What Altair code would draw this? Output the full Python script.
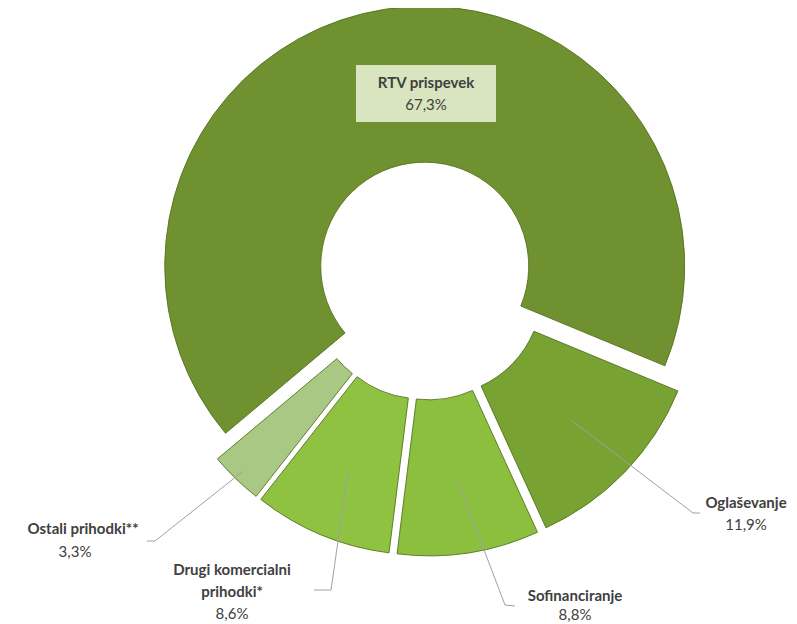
import math
import altair as alt
import pandas as pd

# ---------------- data ----------------
categories = ["RTV prispevek", "Oglaševanje", "Sofinanciranje",
              "Drugi komercialni prihodki*", "Ostali prihodki**"]
shares = [67.3, 11.9, 8.8, 8.6, 3.3]
name_labels = ["RTV prispevek", "Oglaševanje", "Sofinanciranje",
               "Drugi komercialni\nprihodki*", "Ostali prihodki**"]
pct_labels = ["67,3%", "11,9%", "8,8%", "8,6%", "3,3%"]

# ---------------- style / layout ----------------
colors = ["#6f9130", "#78a232", "#8cbf3e", "#8fc240", "#a9c884"]
W, H = 781, 616
CX, CY = 419, 273            # true centre of the doughnut (plot px)
R_OUT, R_IN = 260, 104
EXPLODE = 15
START = math.radians(230)    # angle of first slice
FONT = "Lato"
TXT = "#404040"
FS = 15
LINE_H = 22

# label layout: x, y of first name line, y of percent line
label_layout = {
    "RTV prispevek": (418, 75, 97),
    "Oglaševanje": (738, 495, 517),
    "Sofinanciranje": (567, 588, 607),
    "Drugi komercialni prihodki*": (224, 562, 606),
    "Ostali prihodki**": (67, 521, 544),
}
# leader lines: anchor radius, elbow point, end point
leader_layout = {
    "Oglaševanje": (185, 685, 505, 692, 505),
    "Sofinanciranje": (187, 497, 597, 507, 598),
    "Drugi komercialni prihodki*": (190, 323, 582, 306, 582),
    "Ostali prihodki**": (250, 147, 533, 139, 533),
}

rows = []
for i, c in enumerate(categories):
    lead = leader_layout.get(c)
    rows.append({
        "category": c, "share": shares[i], "order": i,
        "anchor_r": lead[0] if lead else None,
        "ex": lead[1] if lead else None, "ey": lead[2] if lead else None,
        "tx": lead[3] if lead else None, "ty": lead[4] if lead else None,
    })
df = pd.DataFrame(rows)

base = (
    alt.Chart(df)
    .transform_joinaggregate(total="sum(share)")
    .transform_window(cum="sum(share)", sort=[alt.SortField("order")], frame=[None, 0])
    .transform_calculate(start=f"{START} + 2*PI*(datum.cum - datum.share)/datum.total")
    .transform_calculate(end=f"{START} + 2*PI*datum.cum/datum.total")
    .transform_calculate(mid="(datum.start + datum.end)/2")
    .transform_calculate(cx=f"{CX} + {EXPLODE}*sin(datum.mid)")
    .transform_calculate(cy=f"{CY} - {EXPLODE}*cos(datum.mid)")
)

arcs = base.mark_arc(outerRadius=R_OUT, innerRadius=R_IN,
                     stroke="#55731f", strokeWidth=0.9).encode(
    theta=alt.Theta("start:Q", scale=None, stack=None),
    theta2="end:Q",
    x=alt.X("cx:Q", scale=None, axis=None),
    y=alt.Y("cy:Q", scale=None, axis=None),
    color=alt.Color("category:N", scale=alt.Scale(domain=categories, range=colors),
                    legend=None),
    tooltip=["category:N", "share:Q"],
)

leader_base = (
    base.transform_filter("isValid(datum.anchor_r)")
    .transform_calculate(ax="datum.cx + datum.anchor_r*sin(datum.mid)")
    .transform_calculate(ay="datum.cy - datum.anchor_r*cos(datum.mid)")
)
leader1 = leader_base.mark_rule(color="#a0a0a0", strokeWidth=1).encode(
    x=alt.X("ax:Q", scale=None, axis=None), y=alt.Y("ay:Q", scale=None, axis=None),
    x2="ex:Q", y2="ey:Q")
leader2 = leader_base.mark_rule(color="#a0a0a0", strokeWidth=1).encode(
    x=alt.X("ex:Q", scale=None, axis=None), y=alt.Y("ey:Q", scale=None, axis=None),
    x2="tx:Q", y2="ty:Q")

# label text rows
lab_rows = []
for i, c in enumerate(categories):
    x, y0, yp = label_layout[c]
    for k, line in enumerate(name_labels[i].split("\n")):
        lab_rows.append({"text": line, "x": x + (8 if c.startswith("Ostali") else 0),
                         "y": y0 + k * LINE_H, "w": "bold"})
    lab_rows.append({"text": pct_labels[i], "x": x, "y": yp, "w": "normal"})
labs = pd.DataFrame(lab_rows)

bx, by0, byp = label_layout["RTV prispevek"]
box_df = pd.DataFrame({"x": [bx - 70], "x2": [bx + 70],
                       "y": [by0 - 18], "y2": [byp + 17]})
box = alt.Chart(box_df).mark_rect(color="#d8e5bf").encode(
    x=alt.X("x:Q", scale=None, axis=None), x2="x2:Q",
    y=alt.Y("y:Q", scale=None, axis=None), y2="y2:Q")

bold_txt = alt.Chart(labs).transform_filter("datum.w == 'bold'").mark_text(
    font=FONT, fontSize=FS, fontWeight="bold", color=TXT, baseline="middle",
    align="center").encode(
    x=alt.X("x:Q", scale=None, axis=None), y=alt.Y("y:Q", scale=None, axis=None),
    text="text:N")
reg_txt = alt.Chart(labs).transform_filter("datum.w == 'normal'").mark_text(
    font=FONT, fontSize=FS, color=TXT, baseline="middle", align="center").encode(
    x=alt.X("x:Q", scale=None, axis=None), y=alt.Y("y:Q", scale=None, axis=None),
    text="text:N")

chart = alt.layer(arcs, leader1, leader2, box, bold_txt, reg_txt).properties(
    width=W, height=H, padding=0,
    autosize=alt.AutoSizeParams(type="none"),
).configure_view(stroke=None)

chart.save("out.html", embed_options={"renderer": "svg", "actions": False})
